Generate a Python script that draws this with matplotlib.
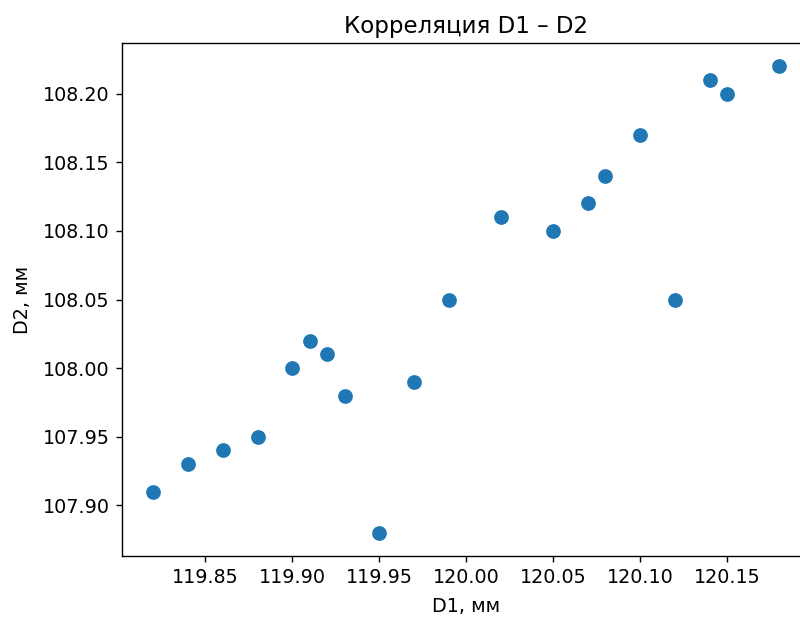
import matplotlib
matplotlib.use("Agg")
import matplotlib.pyplot as plt

# Paired diameter measurements, mm
d1 = [119.82, 119.84, 119.86, 119.88, 119.90, 119.91, 119.92, 119.93, 119.95, 119.97,
      119.99, 120.02, 120.05, 120.07, 120.08, 120.10, 120.12, 120.14, 120.15, 120.18]
d2 = [107.91, 107.93, 107.94, 107.95, 108.00, 108.02, 108.01, 107.98, 107.88, 107.99,
      108.05, 108.11, 108.10, 108.12, 108.14, 108.17, 108.05, 108.21, 108.20, 108.22]

plt.rcParams["font.size"] = 11

fig = plt.figure(figsize=(6.4, 4.936), dpi=125)
ax = fig.add_axes([122 / 800, 1 - 556 / 617, (810.5 - 122) / 800, (556 - 43) / 617])
ax.scatter(d1, d2, color="#1f77b4", s=56)
ax.set_title("Корреляция D1 – D2")
ax.set_xlabel("D1, мм", labelpad=5.5)
ax.set_ylabel("D2, мм", labelpad=6)
ax.xaxis.set_major_formatter(matplotlib.ticker.FormatStrFormatter("%.2f"))
ax.yaxis.set_major_formatter(matplotlib.ticker.FormatStrFormatter("%.2f"))

fig.savefig("out.png", dpi=125)
